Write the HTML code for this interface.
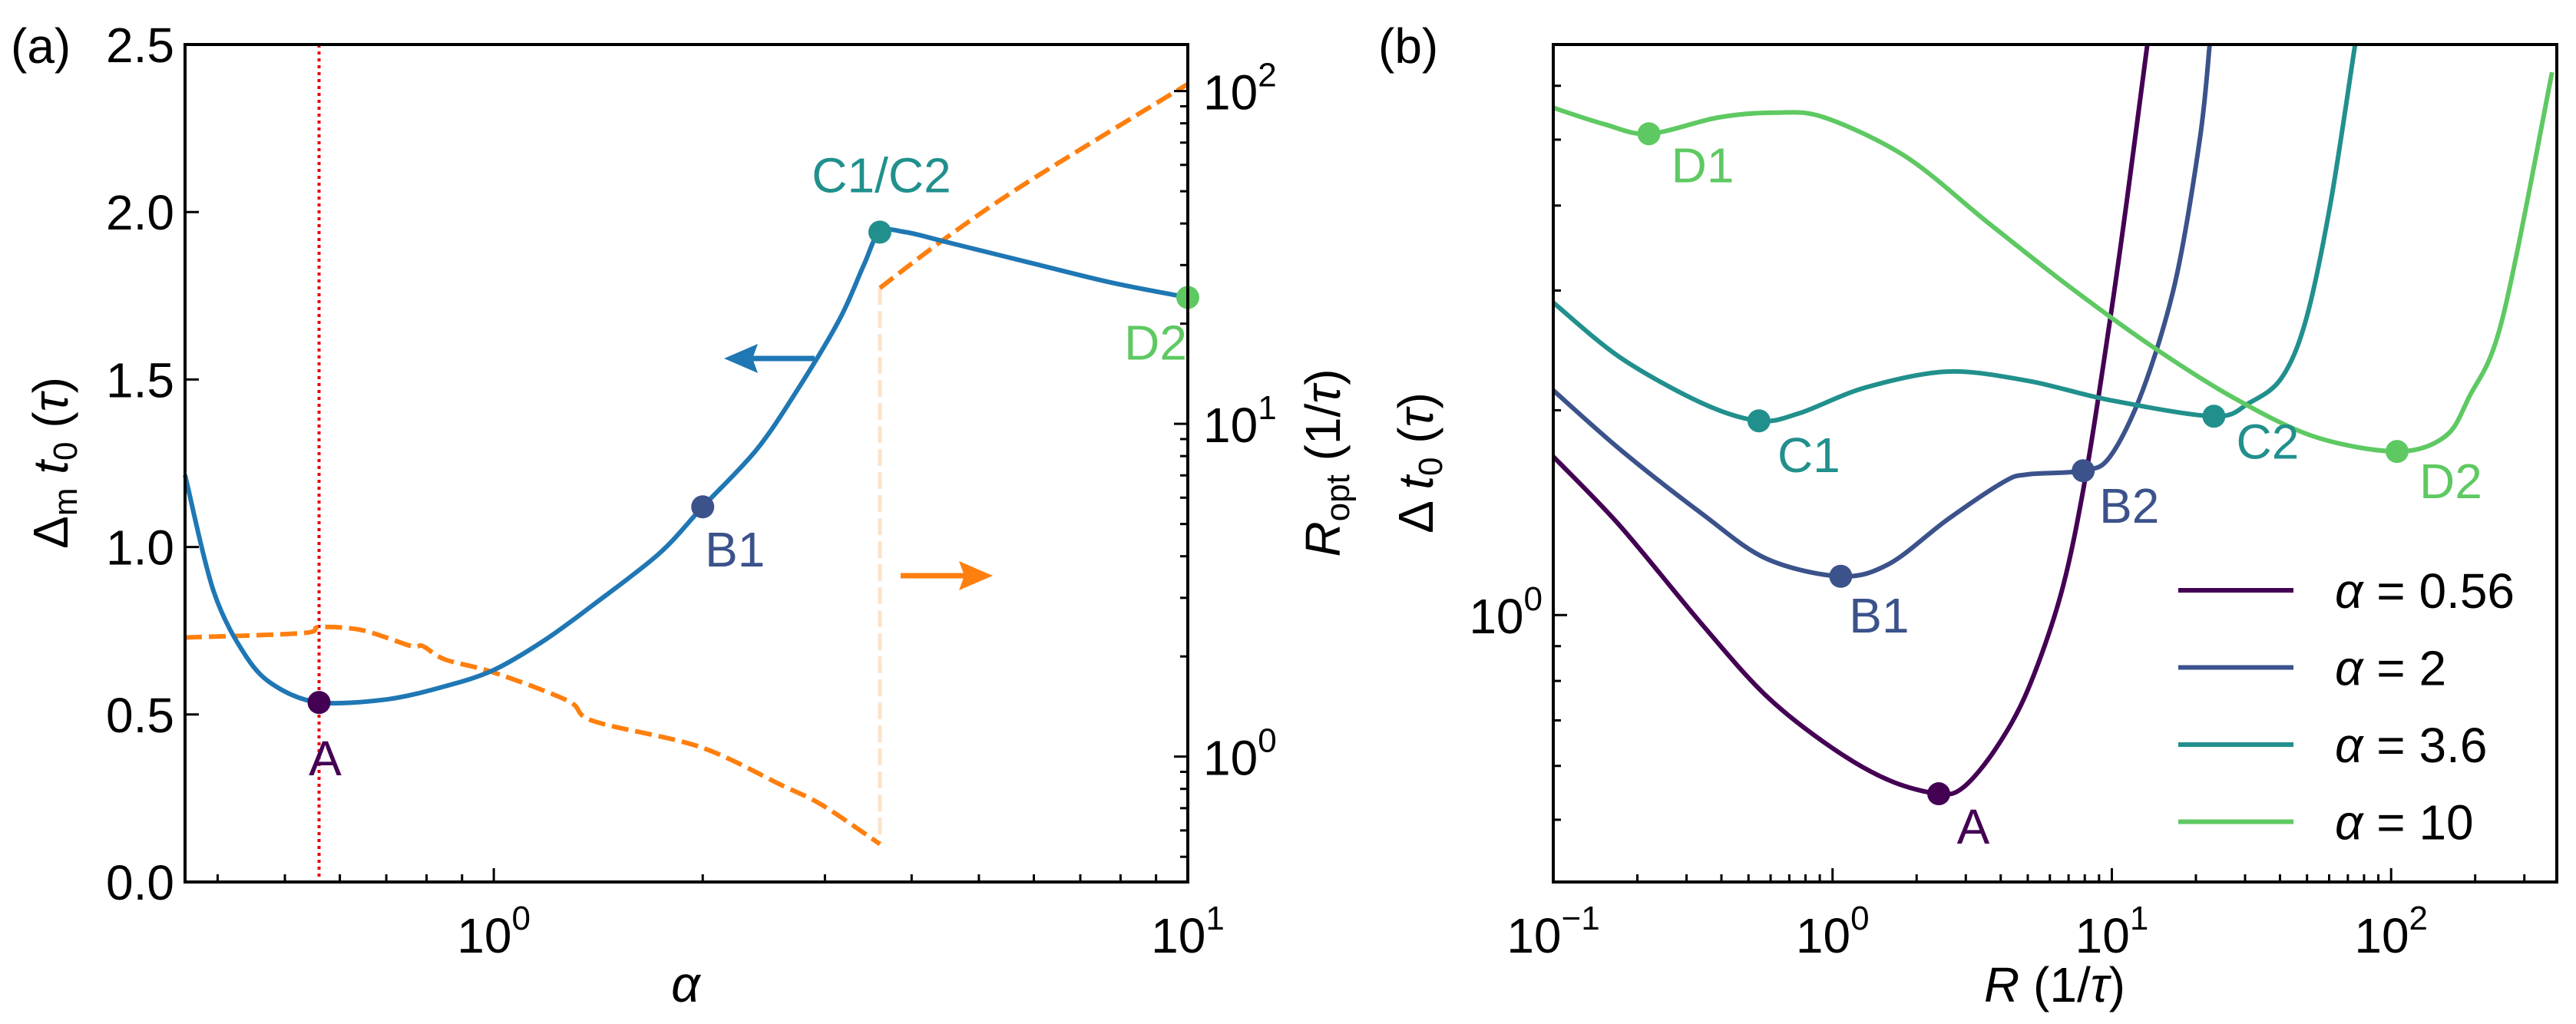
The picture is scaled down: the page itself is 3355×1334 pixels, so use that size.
<!DOCTYPE html>
<html><head><meta charset="utf-8"><style>
body{margin:0;background:#fff}
svg{display:block;font-family:"Liberation Sans",sans-serif}
</style></head><body>
<svg id="fig" width="3355" height="1334" viewBox="0 0 3355 1334" xmlns="http://www.w3.org/2000/svg">
<g id="pa"></g>
<g id="pb"></g>
</svg>
<script>
// ---- Panel (a) data ----
const aBlueAlpha=[0.359,0.395,0.44,0.485,0.56,0.70,0.85,1.0,1.18,1.39,1.73,2.0,2.39,2.74,3.15,3.41,3.6,3.92,4.5,5.89,7.73,10];
const aBlueVal=[1.215,0.866,0.672,0.584,0.536,0.545,0.584,0.633,0.72,0.827,0.98,1.12,1.29,1.47,1.68,1.84,1.94,1.94,1.91,1.85,1.79,1.745];
const aOrgAlpha1=[0.359,0.53,0.56,0.645,0.76,0.79,0.85,1.0,1.28,1.39,1.98,2.6,2.97,3.6];
const aOrgVal1=[2.28,2.35,2.45,2.4,2.15,2.15,1.96,1.79,1.47,1.28,1.07,0.82,0.716,0.546];
const aOrgAlpha2=[3.6,4.49,5.89,10];
const aOrgVal2=[25.6,36.3,53.4,105];
const aMarkAlpha=[0.56,2.0,3.6,10];
const aMarkVal=[0.536,1.12,1.94,1.745];
const aMarkLabel=["A","B1","C1/C2","D2"];
const aYTicks=[0,0.5,1.0,1.5,2.0,2.5];
// ---- Panel (b) data ----
const bR1=[0.1,0.174,0.34,0.58,1.0,1.6,2.4,2.94,3.85,5.0,6.6,8.06,9.86,11.3,13.4];
const bV1=[1.71,1.35,0.97,0.76,0.637,0.571,0.546,0.558,0.637,0.776,1.08,1.6,2.72,4.05,6.9];
const bR2=[0.1,0.174,0.34,0.58,1.07,1.6,2.57,4.11,5.0,7.9,9.86,12.9,16.9,20.7,22.4];
const bV2=[2.14,1.75,1.41,1.21,1.14,1.19,1.38,1.57,1.61,1.63,1.71,2.14,3.1,5.04,6.9];
const bR3=[0.1,0.174,0.34,0.545,0.76,1.31,2.57,5.0,9.86,23.2,31,40.5,49.6,60.8,74.3];
const bV3=[2.88,2.39,2.05,1.93,1.98,2.16,2.28,2.21,2.07,1.96,2.05,2.23,2.72,4.05,6.9];
const bR4=[0.1,0.152,0.22,0.39,0.624,0.935,1.83,3.59,7.05,13.8,27.1,53,105,156,190,250,377];
const bV4=[5.57,5.27,5.1,5.39,5.48,5.39,4.72,3.78,3.04,2.49,2.09,1.83,1.74,1.83,2.09,2.72,6.28];
const bMarkR=[2.4,1.07,7.9,0.545,23.2,0.22,105];
const bMarkV=[0.546,1.14,1.63,1.93,1.96,5.1,1.74];
const bMarkLabel=["A","B1","B2","C1","C2","D1","D2"];
const bMarkSeries=[0,1,1,2,2,3,3];
const bLegend=["0.56","2","3.6","10"];
const colors=["#440154","#3b528b","#21908d","#5ec962"];

const NS="http://www.w3.org/2000/svg";
function mk(parent,tag,attrs,text){const e=document.createElementNS(NS,tag);for(const k in attrs)e.setAttribute(k,attrs[k]);if(text!==undefined)e.textContent=text;parent.appendChild(e);return e;}
const L=Math.log10;
const FS=64,SUP=44;
function pathFrom(xs,ys,fx,fy){
  const P=xs.map((x,i)=>[fx(x),fy(ys[i])]);
  let d='M'+P[0][0].toFixed(1)+','+P[0][1].toFixed(1);
  for(let i=0;i<P.length-1;i++){
    const p0=P[Math.max(0,i-1)],p1=P[i],p2=P[i+1],p3=P[Math.min(P.length-1,i+2)];
    const t=0.16;
    const c1=[p1[0]+(p2[0]-p0[0])*t,p1[1]+(p2[1]-p0[1])*t];
    const c2=[p2[0]-(p3[0]-p1[0])*t,p2[1]-(p3[1]-p1[1])*t];
    d+=' C'+c1[0].toFixed(1)+','+c1[1].toFixed(1)+' '+c2[0].toFixed(1)+','+c2[1].toFixed(1)+' '+p2[0].toFixed(1)+','+p2[1].toFixed(1);
  }
  return d;
}

// ===== Panel a =====
const pa=document.getElementById('pa');
const aL=241,aR=1547,aT=58,aB=1149;
const axMin=0.359,axMax=10,yrMin=0.42,yrMax=138;
const ax=a=>aL+(L(a)-L(axMin))/(L(axMax)-L(axMin))*(aR-aL);
const ay=v=>aB-v/2.5*(aB-aT);
const ayr=v=>aB-(L(v)-L(yrMin))/(L(yrMax)-L(yrMin))*(aB-aT);

let e=mk(pa,'line',{x1:ax(0.56),x2:ax(0.56),y1:aT,y2:aB,stroke:'#e8000b','stroke-width':4,'stroke-dasharray':'4,5'});

e=mk(pa,'line',{x1:ax(3.6),x2:ax(3.6),y1:ayr(25.6),y2:ayr(0.546),stroke:'#fde3cc','stroke-width':5,'stroke-dasharray':'22,8'});

e=mk(pa,'path',{d:pathFrom(aOrgAlpha1,aOrgVal1,ax,ayr),fill:'none',stroke:'#ff7f0e','stroke-width':6,'stroke-dasharray':'22,9'});

e=mk(pa,'path',{d:pathFrom(aOrgAlpha2,aOrgVal2,ax,ayr),fill:'none',stroke:'#ff7f0e','stroke-width':6,'stroke-dasharray':'22,9'});

e=mk(pa,'path',{d:pathFrom(aBlueAlpha,aBlueVal,ax,ay),fill:'none',stroke:'#1f77b4','stroke-width':6});

const aLabOff=[[8,72],[42,55],[2,-75],[-42,58]];
aMarkAlpha.forEach((a,i)=>{
  const c=colors[i];
  let m=mk(pa,'circle',{cx:ax(a),cy:ay(aMarkVal[i]),r:15,fill:c});
  
  
  let t=mk(pa,'text',{x:ax(a)+aLabOff[i][0],y:ay(aMarkVal[i])+aLabOff[i][1]+23,'font-size':FS,fill:c,'text-anchor':'middle'},aMarkLabel[i]);
  
  
});
e=mk(pa,'g',{});
mk(e,'line',{x1:1061,y1:467,x2:975,y2:467,stroke:'#1f77b4','stroke-width':7});
mk(e,'polygon',{points:'943,467 987,448 980,467 987,486',fill:'#1f77b4'});
e=mk(pa,'g',{});
mk(e,'line',{x1:1173,y1:750,x2:1260,y2:750,stroke:'#ff7f0e','stroke-width':7});
mk(e,'polygon',{points:'1293,750 1249,731 1256,750 1249,769',fill:'#ff7f0e'});
e=mk(pa,'rect',{x:aL,y:aT,width:aR-aL,height:aB-aT,fill:'none',stroke:'#000','stroke-width':4});

aYTicks.forEach(v=>{
  mk(pa,'line',{x1:aL,x2:aL+18,y1:ay(v),y2:ay(v),stroke:'#000','stroke-width':3});
  let t=mk(pa,'text',{x:aL-14,y:ay(v)+23,'font-size':FS,'text-anchor':'end'},v.toFixed(1));
  
});
for(let d=-1;d<=1;d++)for(let k=1;k<10;k++){const v=k*Math.pow(10,d);if(v<axMin||v>axMax)continue;
  const len=k==1?18:10;mk(pa,'line',{x1:ax(v),x2:ax(v),y1:aB,y2:aB-len,stroke:'#000','stroke-width':3});}
[[0,1],[1,10]].forEach(([p,v])=>{
  let t=mk(pa,'text',{x:ax(v),y:aB+92,'font-size':FS,'text-anchor':'middle'});
  t.innerHTML='10<tspan dy="-30" font-size="'+SUP+'">'+p+'</tspan>';
  
});
for(let d=-1;d<=2;d++)for(let k=1;k<10;k++){const v=k*Math.pow(10,d);if(v<yrMin||v>yrMax)continue;
  const len=k==1?18:10;mk(pa,'line',{x1:aR,x2:aR-len,y1:ayr(v),y2:ayr(v),stroke:'#000','stroke-width':3});}
[0,1,2].forEach(p=>{
  let t=mk(pa,'text',{x:aR+20,y:ayr(Math.pow(10,p))+24,'font-size':FS});
  t.innerHTML='10<tspan dy="-30" font-size="'+SUP+'">'+p+'</tspan>';
  
});
e=mk(pa,'text',{x:893,y:1305,'font-size':66,'font-style':'italic','text-anchor':'middle'},'α');

e=mk(pa,'text',{transform:'translate(88,603) rotate(-90)','font-size':FS,'text-anchor':'middle'});
e.innerHTML='Δ<tspan font-size="'+SUP+'" dy="12">m</tspan><tspan dy="-12"> </tspan><tspan font-style="italic">t</tspan><tspan font-size="'+SUP+'" dy="12">0</tspan><tspan dy="-12"> (</tspan><tspan font-style="italic">τ</tspan>)';

e=mk(pa,'text',{transform:'translate(1745,603) rotate(-90)','font-size':FS,'text-anchor':'middle'});
e.innerHTML='<tspan font-style="italic">R</tspan><tspan font-size="'+SUP+'" dy="12">opt</tspan><tspan dy="-12"> (1/</tspan><tspan font-style="italic">τ</tspan>)';

e=mk(pa,'text',{x:14,y:82,'font-size':FS},'(a)');


// ===== Panel b =====
const pb=document.getElementById('pb');
const bL=2023,bRt=3330,bT=58,bB=1149;
const bxMin=0.1,bxMax=392,byMin=0.405,byMax=6.9;
const bx=r=>bL+(L(r)-L(bxMin))/(L(bxMax)-L(bxMin))*(bRt-bL);
const by=v=>bB-(L(v)-L(byMin))/(L(byMax)-L(byMin))*(bB-bT);
mk(pb,'clipPath',{id:'clipb'}).appendChild(document.createElementNS(NS,'rect'));
const cr=document.querySelector('#clipb rect');cr.setAttribute('x',bL);cr.setAttribute('y',bT);cr.setAttribute('width',bRt-bL);cr.setAttribute('height',bB-bT);
const bRs=[bR1,bR2,bR3,bR4],bVs=[bV1,bV2,bV3,bV4];
bRs.forEach((rs,i)=>{
  let p=mk(pb,'path',{d:pathFrom(rs,bVs[i],bx,by),fill:'none',stroke:colors[i],'stroke-width':6,'clip-path':'url(#clipb)'});
  
  
});
const bLabOff=[[45,42],[50,50],[60,45],[65,44],[70,32],[70,40],[70,38]];
bMarkR.forEach((r,i)=>{
  const c=colors[bMarkSeries[i]];
  let m=mk(pb,'circle',{cx:bx(r),cy:by(bMarkV[i]),r:15,fill:c});
  
  
  let t=mk(pb,'text',{x:bx(r)+bLabOff[i][0],y:by(bMarkV[i])+bLabOff[i][1]+23,'font-size':FS,fill:c,'text-anchor':'middle'},bMarkLabel[i]);
  
  
});
e=mk(pb,'rect',{x:bL,y:bT,width:bRt-bL,height:bB-bT,fill:'none',stroke:'#000','stroke-width':4});

for(let d=-1;d<=2;d++)for(let k=1;k<10;k++){const v=k*Math.pow(10,d);if(v<bxMin||v>bxMax)continue;
  const len=k==1?18:10;mk(pb,'line',{x1:bx(v),x2:bx(v),y1:bB,y2:bB-len,stroke:'#000','stroke-width':3});}
[-1,0,1,2].forEach(p=>{
  let t=mk(pb,'text',{x:bx(Math.pow(10,p)),y:bB+92,'font-size':FS,'text-anchor':'middle'});
  t.innerHTML='10<tspan dy="-30" font-size="'+SUP+'">'+(p<0?'−1':p)+'</tspan>';
  
});
for(let d=-1;d<=0;d++)for(let k=1;k<10;k++){const v=k*Math.pow(10,d);if(v<byMin||v>byMax)continue;
  const len=k==1?18:10;mk(pb,'line',{x1:bL,x2:bL+len,y1:by(v),y2:by(v),stroke:'#000','stroke-width':3});}
e=mk(pb,'text',{x:bL-14,y:by(1)+24,'font-size':FS,'text-anchor':'end'});
e.innerHTML='10<tspan dy="-30" font-size="'+SUP+'">0</tspan>';

e=mk(pb,'text',{x:2676,y:1305,'font-size':FS,'text-anchor':'middle'});
e.innerHTML='<tspan font-style="italic">R</tspan> (1/<tspan font-style="italic">τ</tspan>)';

e=mk(pb,'text',{transform:'translate(1866,603) rotate(-90)','font-size':FS,'text-anchor':'middle'});
e.innerHTML='Δ <tspan font-style="italic">t</tspan><tspan font-size="'+SUP+'" dy="12">0</tspan><tspan dy="-12"> (</tspan><tspan font-style="italic">τ</tspan>)';

e=mk(pb,'text',{x:1795,y:82,'font-size':FS},'(b)');

const leg=mk(pb,'g',{});

bLegend.forEach((s,i)=>{
  const y=769+i*100.5;
  const g=mk(leg,'g',{});
  
  mk(g,'line',{x1:2837,x2:2987,y1:y,y2:y,stroke:colors[i],'stroke-width':6});
  const t=mk(g,'text',{x:3041,y:y+23,'font-size':FS});
  t.innerHTML='<tspan font-style="italic">α</tspan> = '+s;
});
</script>
</body></html>
